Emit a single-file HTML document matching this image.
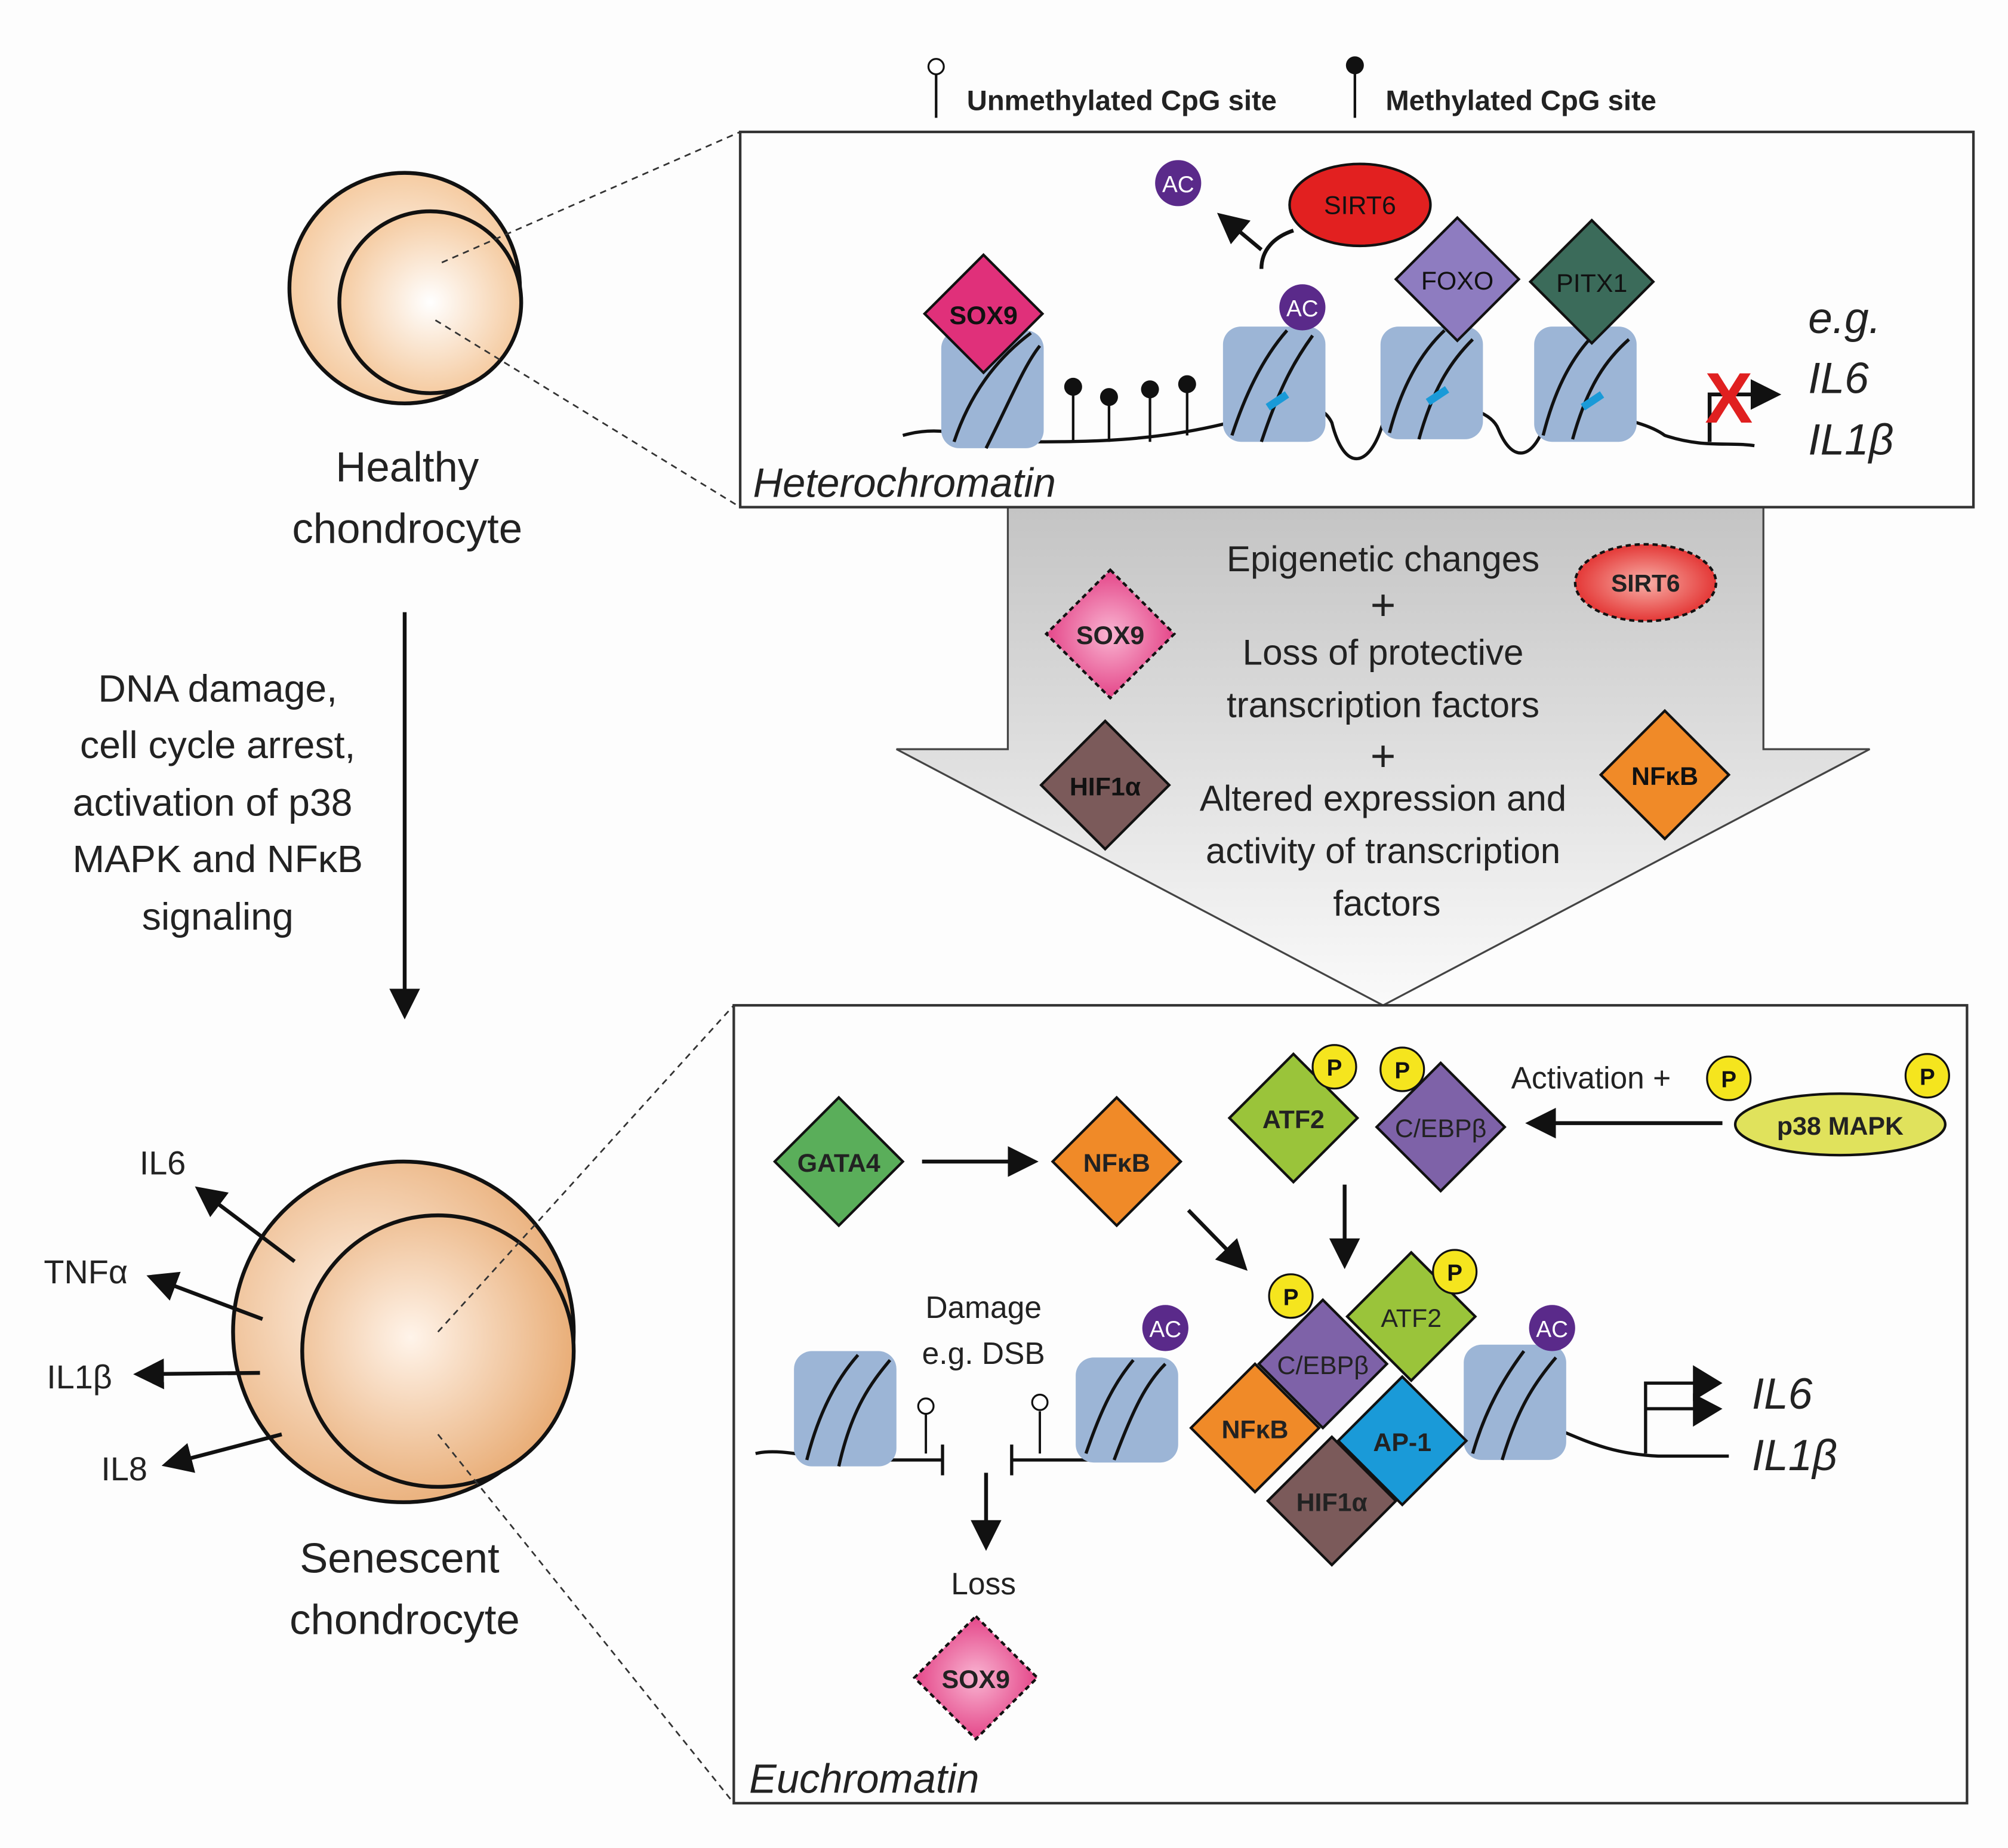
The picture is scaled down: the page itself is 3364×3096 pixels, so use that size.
<!DOCTYPE html>
<html><head><meta charset="utf-8"><style>
html,body{margin:0;padding:0;background:#fdfdfd;}
svg{display:block;}
text{font-family:"Liberation Sans","DejaVu Sans",sans-serif;}
</style></head><body>
<svg width="3364" height="3096" viewBox="0 0 1568 1443" preserveAspectRatio="none" xmlns="http://www.w3.org/2000/svg">
<defs>
<radialGradient id="cell" cx="0.5" cy="0.5" r="0.6">
<stop offset="0" stop-color="#ffffff"/><stop offset="1" stop-color="#f3c18f"/>
</radialGradient>
<radialGradient id="cell2" cx="0.4" cy="0.45" r="0.6">
<stop offset="0" stop-color="#fff4ea"/><stop offset="1" stop-color="#e9ae78"/>
</radialGradient>
<linearGradient id="arr" x1="0" y1="0" x2="0" y2="1">
<stop offset="0" stop-color="#c4c4c4"/><stop offset="1" stop-color="#fafafa"/>
</linearGradient>
<radialGradient id="pinkg" cx="0.5" cy="0.5" r="0.6"><stop offset="0" stop-color="#f9b5d2"/><stop offset="1" stop-color="#e0307a"/></radialGradient>
<radialGradient id="redg" cx="0.5" cy="0.5" r="0.6"><stop offset="0" stop-color="#f8b0a8"/><stop offset="1" stop-color="#e02020"/></radialGradient>
<marker id="ah" markerWidth="8" markerHeight="8" refX="6" refY="4" orient="auto" markerUnits="strokeWidth"><path d="M0,0 L8,4 L0,8 z" fill="#111"/></marker>
</defs>
<rect width="1568" height="1443" fill="#fdfdfd"/>

<!-- legend -->
<line x1="731" y1="58" x2="731" y2="92" stroke="#111" stroke-width="2"/>
<circle cx="731" cy="52" r="6" fill="#fff" stroke="#111" stroke-width="1.5"/>
<text x="755" y="86" font-size="22" font-weight="bold" fill="#222">Unmethylated CpG site</text>
<line x1="1058" y1="55" x2="1058" y2="92" stroke="#111" stroke-width="2"/>
<circle cx="1058" cy="51" r="7" fill="#111"/>
<text x="1082" y="86" font-size="22" font-weight="bold" fill="#222">Methylated CpG site</text>

<!-- healthy cell -->
<circle cx="316" cy="225" r="90" fill="url(#cell)" stroke="#111" stroke-width="3"/>
<circle cx="336" cy="236" r="71" fill="url(#cell)" stroke="#111" stroke-width="3"/>
<line x1="345" y1="205" x2="578" y2="103" stroke="#333" stroke-width="1.3" stroke-dasharray="5,4"/>
<line x1="340" y1="250" x2="578" y2="396" stroke="#333" stroke-width="1.3" stroke-dasharray="5,4"/>
<text x="318" y="376" font-size="33" text-anchor="middle" fill="#222">Healthy</text>
<text x="318" y="424" font-size="33" text-anchor="middle" fill="#222">chondrocyte</text>

<line x1="316" y1="478" x2="316" y2="790" stroke="#111" stroke-width="3" marker-end="url(#ah)"/>
<g font-size="30" text-anchor="middle" fill="#222">
<text x="170" y="548">DNA damage,</text>
<text x="170" y="592">cell cycle arrest,</text>
<text x="166" y="637">activation of p38</text>
<text x="170" y="681">MAPK and NFκB</text>
<text x="170" y="726">signaling</text>
</g>

<!-- senescent cell -->
<circle cx="315" cy="1040" r="133" fill="url(#cell2)" stroke="#111" stroke-width="3"/>
<circle cx="342" cy="1055" r="106" fill="url(#cell2)" stroke="#111" stroke-width="3"/>
<line x1="342" y1="1040" x2="573" y2="785" stroke="#333" stroke-width="1.3" stroke-dasharray="5,4"/>
<line x1="342" y1="1120" x2="573" y2="1408" stroke="#333" stroke-width="1.3" stroke-dasharray="5,4"/>
<text x="312" y="1228" font-size="33" text-anchor="middle" fill="#222">Senescent</text>
<text x="316" y="1276" font-size="33" text-anchor="middle" fill="#222">chondrocyte</text>
<g stroke="#111" stroke-width="3">
<line x1="230" y1="985" x2="157" y2="930" marker-end="url(#ah)"/>
<line x1="205" y1="1030" x2="120" y2="998" marker-end="url(#ah)"/>
<line x1="203" y1="1072" x2="110" y2="1073" marker-end="url(#ah)"/>
<line x1="220" y1="1120" x2="132" y2="1143" marker-end="url(#ah)"/>
</g>
<g font-size="26" fill="#222" text-anchor="middle">
<text x="127" y="917">IL6</text>
<text x="67" y="1002">TNFα</text>
<text x="62" y="1084">IL1β</text>
<text x="97" y="1156">IL8</text>
</g>

<!-- big arrow -->
<polygon points="787,396 1377,396 1377,585 1460,585 1080,785 700,585 787,585" fill="url(#arr)" stroke="#444" stroke-width="1.5"/>
<g font-size="28" text-anchor="middle" fill="#222">
<text x="1080" y="446">Epigenetic changes</text>
<text x="1080" y="484" font-size="34">+</text>
<text x="1080" y="519">Loss of protective</text>
<text x="1080" y="560">transcription factors</text>
<text x="1080" y="602" font-size="34">+</text>
<text x="1080" y="633">Altered expression and</text>
<text x="1080" y="674">activity of transcription</text>
<text x="1083" y="715">factors</text>
</g>
<polygon points="867,445 917,495 867,545 817,495" fill="url(#pinkg)" stroke="#111" stroke-width="2" stroke-dasharray="4,3"/>
<text x="867" y="503" font-size="20" font-weight="bold" text-anchor="middle" fill="#222">SOX9</text>
<ellipse cx="1285" cy="455" rx="55" ry="30" fill="url(#redg)" stroke="#111" stroke-width="2" stroke-dasharray="4,3"/>
<text x="1285" y="462" font-size="19" font-weight="bold" text-anchor="middle" fill="#222">SIRT6</text>
<polygon points="863,563 913,613 863,663 813,613" fill="#7b5a5a" stroke="#111" stroke-width="2"/>
<text x="863" y="621" font-size="20" font-weight="bold" text-anchor="middle" fill="#111">HIF1α</text>
<polygon points="1300,555 1350,605 1300,655 1250,605" fill="#f08a28" stroke="#111" stroke-width="2"/>
<text x="1300" y="613" font-size="20" font-weight="bold" text-anchor="middle" fill="#111">NFκB</text>

<!-- top box -->
<rect x="578" y="103" width="963" height="293" fill="#fdfdfd" stroke="#333" stroke-width="2"/>
<path d="M705,340 C740,330 760,345 800,345 C850,345 900,345 960,330 C1010,320 1030,310 1040,330 C1050,370 1070,365 1080,330 C1090,310 1160,310 1170,335 C1180,360 1195,360 1205,335 C1215,315 1280,325 1300,340 C1330,350 1350,345 1370,348" fill="none" stroke="#111" stroke-width="2.5"/>
<g fill="#9cb5d6">
<rect x="735" y="258" width="80" height="92" rx="14"/>
<rect x="955" y="255" width="80" height="90" rx="14"/>
<rect x="1078" y="255" width="80" height="88" rx="14"/>
<rect x="1198" y="255" width="80" height="90" rx="14"/>
</g>
<g fill="none" stroke="#111" stroke-width="2.5">
<path d="M745,345 C760,300 785,275 805,260"/><path d="M770,350 C790,310 800,285 812,270"/>
<path d="M962,340 C975,300 990,275 1005,258"/><path d="M985,345 C1000,300 1012,280 1025,262"/>
<path d="M1085,338 C1095,300 1110,275 1128,258"/><path d="M1108,343 C1120,300 1135,280 1150,265"/>
<path d="M1205,340 C1215,300 1230,275 1248,258"/><path d="M1228,343 C1240,300 1255,280 1272,265"/>
</g>
<g stroke="#1a9ad8" stroke-width="6" fill="none">
<path d="M990,318 L1005,308"/><path d="M1115,314 L1130,304"/><path d="M1236,318 L1251,308"/>
</g>
<polygon points="768,199 814,245 768,291 722,245" fill="#e0307a" stroke="#111" stroke-width="2"/>
<text x="768" y="253" font-size="20" font-weight="bold" text-anchor="middle" fill="#111">SOX9</text>
<g stroke="#111" stroke-width="2">
<line x1="838" y1="345" x2="838" y2="302"/><line x1="866" y1="345" x2="866" y2="310"/>
<line x1="898" y1="345" x2="898" y2="304"/><line x1="927" y1="340" x2="927" y2="300"/>
</g>
<g fill="#111"><circle cx="838" cy="302" r="7"/><circle cx="866" cy="310" r="7"/><circle cx="898" cy="304" r="7"/><circle cx="927" cy="300" r="7"/></g>
<circle cx="1017" cy="240" r="18" fill="#5a2a8a"/>
<text x="1017" y="247" font-size="18" text-anchor="middle" fill="#fff">AC</text>
<circle cx="920" cy="143" r="18" fill="#5a2a8a"/>
<text x="920" y="150" font-size="18" text-anchor="middle" fill="#fff">AC</text>
<ellipse cx="1062" cy="160" rx="55" ry="32" fill="#e22020" stroke="#111" stroke-width="2"/>
<text x="1062" y="167" font-size="20" text-anchor="middle" fill="#111">SIRT6</text>
<path d="M1010,180 C995,185 985,195 985,210 M985,195 L955,170" fill="none" stroke="#111" stroke-width="3" marker-end="url(#ah)"/>
<polygon points="1138,170 1186,218 1138,266 1090,218" fill="#8e7cc0" stroke="#111" stroke-width="2"/>
<text x="1138" y="226" font-size="20" text-anchor="middle" fill="#111">FOXO</text>
<polygon points="1243,172 1291,220 1243,268 1195,220" fill="#3b6b5a" stroke="#111" stroke-width="2"/>
<text x="1243" y="228" font-size="20" text-anchor="middle" fill="#111">PITX1</text>
<path d="M1335,345 L1335,308 L1385,308" fill="none" stroke="#111" stroke-width="3" marker-end="url(#ah)"/>
<text x="1350" y="330" font-size="56" font-weight="bold" text-anchor="middle" fill="#e02020">X</text>
<g font-size="34" font-style="italic" fill="#222">
<text x="1412" y="260">e.g.</text><text x="1412" y="307">IL6</text><text x="1412" y="355">IL1β</text>
</g>
<text x="588" y="388" font-size="32" font-style="italic" fill="#222">Heterochromatin</text>

<!-- bottom box -->
<rect x="573" y="785" width="963" height="623" fill="#fdfdfd" stroke="#333" stroke-width="2"/>
<polygon points="655,857 705,907 655,957 605,907" fill="#5aae5a" stroke="#111" stroke-width="2"/>
<text x="655" y="915" font-size="20" font-weight="bold" text-anchor="middle" fill="#222">GATA4</text>
<line x1="720" y1="907" x2="805" y2="907" stroke="#111" stroke-width="3" marker-end="url(#ah)"/>
<polygon points="872,857 922,907 872,957 822,907" fill="#f08a28" stroke="#111" stroke-width="2"/>
<text x="872" y="915" font-size="20" font-weight="bold" text-anchor="middle" fill="#222">NFκB</text>
<polygon points="1010,823 1060,873 1010,923 960,873" fill="#9ac43a" stroke="#111" stroke-width="2"/>
<text x="1010" y="881" font-size="20" font-weight="bold" text-anchor="middle" fill="#222">ATF2</text>
<polygon points="1125,830 1175,880 1125,930 1075,880" fill="#7e62a8" stroke="#111" stroke-width="2"/>
<text x="1125" y="888" font-size="20" text-anchor="middle" fill="#222">C/EBPβ</text>
<line x1="1345" y1="877" x2="1197" y2="877" stroke="#111" stroke-width="3" marker-end="url(#ah)"/>
<text x="1180" y="850" font-size="24" fill="#222">Activation +</text>
<ellipse cx="1437" cy="878" rx="82" ry="24" fill="#e0e25c" stroke="#111" stroke-width="2"/>
<text x="1437" y="886" font-size="20" font-weight="bold" text-anchor="middle" fill="#222">p38 MAPK</text>
<line x1="1050" y1="925" x2="1050" y2="985" stroke="#111" stroke-width="3" marker-end="url(#ah)"/>
<line x1="928" y1="945" x2="970" y2="988" stroke="#111" stroke-width="3" marker-end="url(#ah)"/>

<!-- DNA bottom -->
<path d="M590,1135 C610,1130 640,1140 660,1140 L735,1140 M790,1140 L850,1140 C870,1135 880,1130 900,1120 M1200,1110 C1230,1120 1250,1135 1295,1137 L1350,1137" fill="none" stroke="#111" stroke-width="2.5"/>
<g stroke="#111" stroke-width="2.5"><line x1="736" y1="1128" x2="736" y2="1152"/><line x1="790" y1="1128" x2="790" y2="1152"/></g>
<g fill="#9cb5d6">
<rect x="620" y="1055" width="80" height="90" rx="14"/>
<rect x="840" y="1060" width="80" height="82" rx="14"/>
<rect x="1143" y="1050" width="80" height="90" rx="14"/>
</g>
<g fill="none" stroke="#111" stroke-width="2.5">
<path d="M630,1140 C640,1100 655,1075 670,1058"/><path d="M655,1145 C665,1100 680,1080 695,1062"/>
<path d="M848,1135 C860,1100 870,1080 885,1062"/><path d="M870,1140 C885,1100 895,1080 910,1065"/>
<path d="M1150,1135 C1160,1100 1175,1075 1190,1055"/><path d="M1173,1140 C1185,1100 1198,1080 1215,1060"/>
</g>
<g stroke="#111" stroke-width="1.8"><line x1="723" y1="1104" x2="723" y2="1135"/><line x1="812" y1="1102" x2="812" y2="1135"/></g>
<circle cx="723" cy="1098" r="6" fill="#fff" stroke="#111" stroke-width="1.5"/>
<circle cx="812" cy="1095" r="6" fill="#fff" stroke="#111" stroke-width="1.5"/>
<text x="768" y="1029" font-size="24" text-anchor="middle" fill="#222">Damage</text>
<text x="768" y="1065" font-size="24" text-anchor="middle" fill="#222">e.g. DSB</text>
<line x1="770" y1="1150" x2="770" y2="1205" stroke="#111" stroke-width="3" marker-end="url(#ah)"/>
<text x="768" y="1245" font-size="24" text-anchor="middle" fill="#222">Loss</text>
<polygon points="762,1262 810,1310 762,1358 714,1310" fill="url(#pinkg)" stroke="#111" stroke-width="2" stroke-dasharray="4,3"/>
<text x="762" y="1318" font-size="20" font-weight="bold" text-anchor="middle" fill="#222">SOX9</text>
<circle cx="910" cy="1037" r="18" fill="#5a2a8a"/><text x="910" y="1044" font-size="18" text-anchor="middle" fill="#fff">AC</text>
<circle cx="1212" cy="1037" r="18" fill="#5a2a8a"/><text x="1212" y="1044" font-size="18" text-anchor="middle" fill="#fff">AC</text>

<!-- cluster -->
<polygon points="1102,978 1152,1028 1102,1078 1052,1028" fill="#9ac43a" stroke="#111" stroke-width="2"/>
<text x="1102" y="1036" font-size="20" text-anchor="middle" fill="#222">ATF2</text>
<polygon points="1095,1075 1145,1125 1095,1175 1045,1125" fill="#1a9ad8" stroke="#111" stroke-width="2"/>
<text x="1095" y="1133" font-size="20" font-weight="bold" text-anchor="middle" fill="#222">AP-1</text>
<polygon points="1040,1122 1090,1172 1040,1222 990,1172" fill="#7b5a5a" stroke="#111" stroke-width="2"/>
<text x="1040" y="1180" font-size="20" font-weight="bold" text-anchor="middle" fill="#222">HIF1α</text>
<polygon points="980,1065 1030,1115 980,1165 930,1115" fill="#f08a28" stroke="#111" stroke-width="2"/>
<text x="980" y="1123" font-size="20" font-weight="bold" text-anchor="middle" fill="#222">NFκB</text>
<polygon points="1033,1015 1083,1065 1033,1115 983,1065" fill="#7e62a8" stroke="#111" stroke-width="2"/>
<text x="1033" y="1073" font-size="20" text-anchor="middle" fill="#222">C/EBPβ</text>

<!-- P circles -->
<g fill="#f5e51e" stroke="#111" stroke-width="1.5">
<circle cx="1042" cy="833" r="17"/><circle cx="1095" cy="835" r="17"/><circle cx="1350" cy="842" r="17"/>
<circle cx="1505" cy="840" r="17"/><circle cx="1136" cy="993" r="17"/><circle cx="1008" cy="1012" r="17"/>
</g>
<g font-size="18" font-weight="bold" text-anchor="middle" fill="#111">
<text x="1042" y="840">P</text><text x="1095" y="842">P</text><text x="1350" y="849">P</text>
<text x="1505" y="847">P</text><text x="1136" y="1000">P</text><text x="1008" y="1019">P</text>
</g>

<path d="M1285,1135 L1285,1080 L1335,1080 M1285,1100 L1335,1100" fill="none" stroke="#111" stroke-width="2.5"/>
<polygon points="1322,1066 1345,1080 1322,1094" fill="#111"/>
<polygon points="1322,1088 1345,1100 1322,1114" fill="#111"/>
<text x="1368" y="1100" font-size="34" font-style="italic" fill="#222">IL6</text>
<text x="1368" y="1148" font-size="34" font-style="italic" fill="#222">IL1β</text>
<text x="585" y="1400" font-size="32" font-style="italic" fill="#222">Euchromatin</text>
</svg>
</body></html>
